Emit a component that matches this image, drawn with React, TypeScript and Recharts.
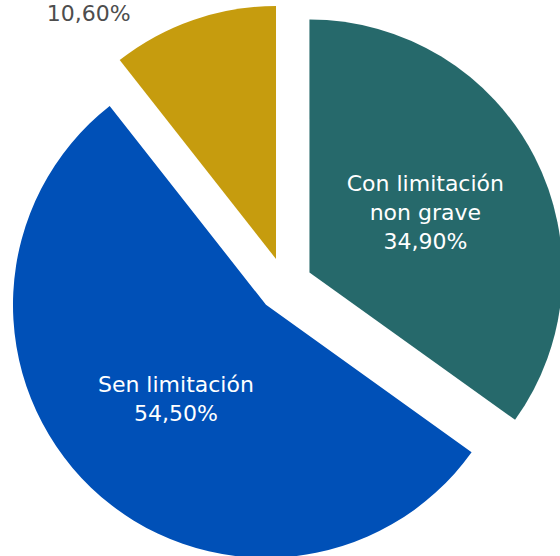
import React from 'react';
import { PieChart, Pie, Cell } from 'recharts';

const categories = ['Con limitación non grave', 'Sen limitación', 'Con limitación grave'];
const values = [34.9, 54.5, 10.6];
const colors = ['#26696B', '#0050B7', '#C69C0E'];
const labelLines: string[][] = [['Con limitación', 'non grave'], ['Sen limitación'], []];
const insideLabel = [true, true, false];

const CX = 285;
const CY = 285;
const R = 253;
const EXPLODE = 27.5;
const FONT = 'DejaVu Sans, Verdana, sans-serif';

const data = categories.map((name, i) => ({ name, value: values[i] }));
const total = values.reduce((a, b) => a + b, 0);
const mids: number[] = [];
{
  let cum = 0;
  values.forEach((v) => {
    mids.push(90 - (360 * (cum + v / 2)) / total);
    cum += v;
  });
}

const fmt = (v: number) => v.toFixed(2).replace('.', ',') + '%';

const makeLabel = (slice: number) => (props: any) => {
  const { cx, cy, midAngle, outerRadius, index } = props;
  if (index !== slice) return null;
  const rad = (Math.PI * midAngle) / 180;
  const lines = [...labelLines[slice], fmt(values[slice])];
  if (insideLabel[slice]) {
    const lx = cx + outerRadius * 0.515 * Math.cos(rad);
    const ly = cy - outerRadius * 0.515 * Math.sin(rad);
    const lh = 29;
    return (
      <g>
        {lines.map((t, k) => (
          <text
            key={k}
            x={lx}
            y={ly + (k - (lines.length - 1) / 2) * lh}
            textAnchor="middle"
            dominantBaseline="central"
            fill="#ffffff"
            fontFamily={FONT}
            fontSize={22}
          >
            {t}
          </text>
        ))}
      </g>
    );
  }
  const lx = cx - outerRadius * 0.74;
  const ly = cy - outerRadius * 0.97;
  return (
    <text
      x={lx}
      y={ly}
      textAnchor="middle"
      dominantBaseline="central"
      fill="#4D4D4D"
      fontFamily={FONT}
      fontSize={22}
    >
      {fmt(values[slice])}
    </text>
  );
};

export default function App() {
  return (
    <div style={{ position: 'absolute', left: 0, top: 0, width: 560, height: 556, background: '#fff' }}>
      <PieChart width={560} height={556} margin={{ top: 0, right: 0, bottom: 0, left: 0 }}>
        {values.map((_, s) => {
          const rad = (Math.PI * mids[s]) / 180;
          const pcx = CX + EXPLODE * Math.cos(rad);
          const pcy = CY - EXPLODE * Math.sin(rad);
          return (
            <Pie
              key={s}
              data={data}
              dataKey="value"
              nameKey="name"
              cx={pcx}
              cy={pcy}
              innerRadius={0}
              outerRadius={R}
              startAngle={90}
              endAngle={-270}
              stroke="none"
              isAnimationActive={false}
              labelLine={false}
              label={makeLabel(s)}
            >
              {data.map((_, i) => (
                <Cell key={i} fill={i === s ? colors[i] : 'transparent'} stroke="none" />
              ))}
            </Pie>
          );
        })}
      </PieChart>
    </div>
  );
}
